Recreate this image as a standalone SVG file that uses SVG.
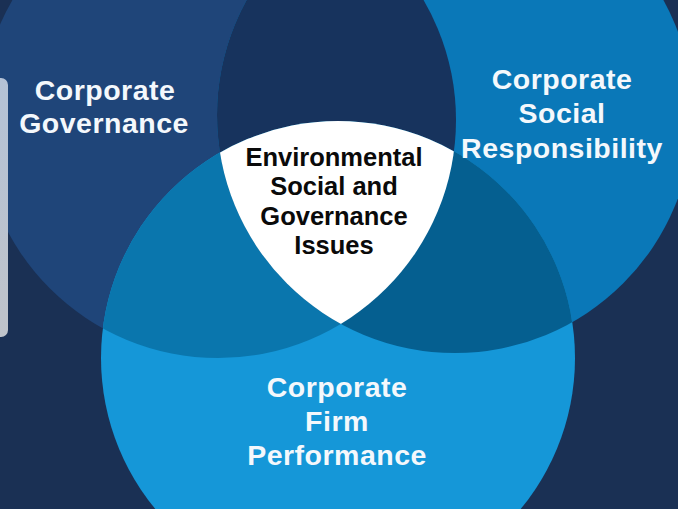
<svg xmlns="http://www.w3.org/2000/svg" width="678" height="509" viewBox="0 0 678 509">
<defs>
<style>
text{font-family:"Liberation Sans",Arial,sans-serif;font-weight:700;text-anchor:middle}
.w{fill:#f4f8fc;font-size:28.5px;letter-spacing:.5px}
.k{fill:#0a0a0a;font-size:25.5px}
</style>
<linearGradient id="bar" x1="0" y1="0" x2="0" y2="1"><stop offset="0" stop-color="#b4c2d6"/><stop offset="1" stop-color="#bfc3ca"/></linearGradient>
<clipPath id="cL"><circle cx="218" cy="120" r="238"/></clipPath>
<clipPath id="cR"><circle cx="455" cy="115" r="238"/></clipPath>
<clipPath id="cB"><circle cx="338" cy="358" r="237"/></clipPath>
</defs>
<rect width="678" height="509" fill="#1a3054"/>
<g id="node-governance"><circle cx="218" cy="120" r="238" fill="#1f4579"/></g>
<g id="node-csr"><circle cx="455" cy="115" r="238" fill="#0a78b8"/></g>
<g id="node-performance"><circle cx="338" cy="358" r="237" fill="#1597d8"/></g>
<g id="overlaps">
<g clip-path="url(#cL)"><circle cx="455" cy="115" r="238" fill="#17335d"/><circle cx="338" cy="358" r="237" fill="#0a76ad"/></g>
<g clip-path="url(#cR)"><circle cx="338" cy="358" r="237" fill="#055f90"/></g>
</g>
<g id="node-esg"><g clip-path="url(#cL)"><g clip-path="url(#cR)"><circle cx="338" cy="358" r="237" fill="#fff"/></g></g></g>
<rect x="-12" y="78" width="20" height="259" rx="7" fill="url(#bar)"/>
<g id="labels">
<text class="w" x="105" y="100">Corporate</text>
<text class="w" x="104" y="133">Governance</text>
<text class="w" x="562" y="89">Corporate</text>
<text class="w" x="562" y="123">Social</text>
<text class="w" x="562" y="158">Responsibility</text>
<text class="w" x="337" y="397">Corporate</text>
<text class="w" x="337" y="431">Firm</text>
<text class="w" x="337" y="465">Performance</text>
<text class="k" x="334" y="166">Environmental</text>
<text class="k" x="334" y="195">Social and</text>
<text class="k" x="334" y="225">Governance</text>
<text class="k" x="334" y="254">Issues</text>
</g>
</svg>
